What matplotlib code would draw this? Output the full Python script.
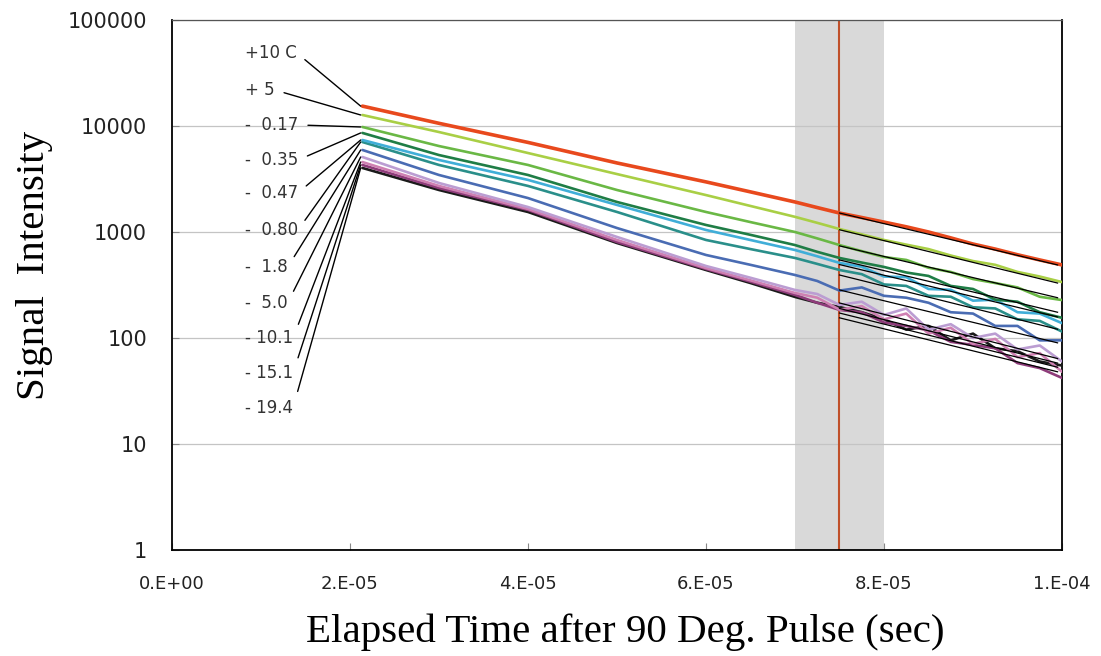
import matplotlib
matplotlib.use("Agg")
import matplotlib.pyplot as plt
import numpy as np

# ---------------- data ----------------
times_e5 = [2.14, 3, 4, 5, 6, 6.5, 7, 7.25, 7.5, 7.75, 8, 8.25, 8.5, 8.75, 9, 9.25, 9.5, 9.75, 10]

labels = ["+10 C", "+ 5", "-  0.17", "-  0.35", "-  0.47", "-  0.80",
          "-  1.8", "-  5.0", "- 10.1", "- 15.1", "- 19.4"]

s_p10   = [15400, 10600, 7000, 4480, 2970, 2390, 1920, 1700, 1510, 1370, 1240, 1120, 1000, 880, 770, 690, 610, 545, 489]
s_p5    = [12700, 8770, 5560, 3520, 2230, 1760, 1390, 1220, 1067, 950, 841, 760, 690, 600, 532, 490, 420, 380, 337]
s_m017  = [9790, 6470, 4290, 2490, 1545, 1240, 1000, 870, 753, 660, 581, 545, 460, 420, 360, 330, 300, 245, 228]
s_m035  = [8600, 5320, 3450, 1920, 1165, 940, 753, 650, 569, 515, 468, 415, 385, 310, 290, 230, 220, 175, 155]
s_m047  = [7380, 4780, 3100, 1800, 1045, 840, 676, 590, 511, 470, 380, 375, 290, 285, 225, 230, 175, 170, 138]
s_m080  = [7060, 4290, 2720, 1545, 841, 690, 569, 500, 438, 400, 320, 310, 250, 245, 195, 190, 150, 145, 115]
s_m18   = [5940, 3450, 2090, 1090, 607, 490, 393, 345, 280, 300, 250, 240, 215, 175, 170, 130, 130, 95, 95]
s_m50   = [5100, 2900, 1720, 898, 478, 370, 284, 260, 205, 220, 165, 190, 120, 135, 100, 110, 78, 85, 60]
s_m101  = [4570, 2720, 1650, 841, 457, 350, 266, 240, 185, 200, 150, 170, 110, 125, 88, 98, 66, 72, 48]
s_m151  = [4290, 2600, 1615, 805, 448, 340, 255, 215, 184, 175, 140, 130, 118, 92, 86, 80, 58, 52, 42]
s_m194  = [4020, 2490, 1545, 787, 438, 330, 244, 215, 196, 175, 150, 120, 130, 95, 110, 80, 75, 60, 55]

series = [s_p10, s_p5, s_m017, s_m035, s_m047, s_m080, s_m18, s_m50, s_m101, s_m151, s_m194]

# exponential fits drawn from 7.5E-05 to ~1E-04 (start, end intensities)
fit_t_e5 = [7.5, 9.95]
fit_start = [1510, 1050, 740, 545, 493, 393, 284, 214, 190, 172, 155]
fit_end   = [489, 330, 240, 175, 158, 121, 90, 64, 58, 53, 48]

colors = ["#e8491d", "#a9cf45", "#6ab845", "#1f7d46", "#40aed8", "#2a8f8a",
          "#4a6cb3", "#bb9dd2", "#cf80b2", "#8e3c7a", "#1a1a1a"]
widths = [2.6, 1.9, 1.9, 1.9, 1.9, 1.9, 1.9, 1.9, 1.9, 1.9, 1.9]

xticks = [0, 2e-5, 4e-5, 6e-5, 8e-5, 1e-4]
xticklabels = ["0.E+00", "2.E-05", "4.E-05", "6.E-05", "8.E-05", "1.E-04"]
yticks = [1, 10, 100, 1000, 10000, 100000]
yticklabels = ["1", "10", "100", "1000", "10000", "100000"]

band = (7e-5, 8e-5)
marker_t = 7.5e-5

# ---------------- plot ----------------
fig = plt.figure(figsize=(11.01, 6.56), dpi=100)
ax = fig.add_axes([172/1101, 106/656, 890/1101, 530/656])

t = np.array(times_e5) * 1e-5
ax.axvspan(band[0], band[1], color="#d9d9d9", lw=0, zorder=0)
ax.axvline(marker_t, color="#c0502a", lw=1.5, zorder=1)

for vals, c, w in reversed(list(zip(series, colors, widths))):
    ax.plot(t, vals, color=c, lw=w, solid_capstyle="round", zorder=3)

ft = np.array(fit_t_e5) * 1e-5
for s0, s1 in zip(fit_start, fit_end):
    ax.plot(ft, [s0, s1], color="black", lw=0.9, zorder=4)

ax.set_yscale("log")
ax.set_xlim(0, 1e-4)
ax.set_ylim(1, 100000)
ax.set_xticks(xticks)
ax.set_xticklabels(xticklabels)
ax.set_yticks(yticks)
ax.set_yticklabels(yticklabels)
ax.minorticks_off()
ax.yaxis.grid(True, color="#c4c4c4", lw=0.9)
ax.set_axisbelow(True)
ax.tick_params(axis="both", direction="in", length=5, width=0.8, color="#888888",
               pad=18, labelcolor="#222222")
ax.tick_params(axis="x", labelsize=13)
ax.tick_params(axis="y", labelsize=15)
for sp in ax.spines.values():
    sp.set_color("black")
    sp.set_linewidth(1.3)
ax.spines["top"].set_color("#555555")
ax.spines["top"].set_linewidth(0.9)

# labels with leader lines
label_y = [0.938, 0.868, 0.802, 0.736, 0.674, 0.604, 0.534, 0.466, 0.400, 0.334, 0.268]
for lab, ly, vals in zip(labels, label_y, series):
    ax.annotate(lab, xy=(t[0] - 0.02e-5, vals[0]), xycoords="data",
                xytext=(0.082, ly), textcoords="axes fraction",
                ha="left", va="center", fontsize=12, color="#333333",
                family="DejaVu Sans",
                arrowprops=dict(arrowstyle="-", color="black", lw=1.0,
                                relpos=(1.0, 0.5), shrinkA=5, shrinkB=0),
                zorder=5)

fig.text(625/1101, 1 - 632/656, "Elapsed Time after 90 Deg. Pulse (sec)",
         ha="center", va="center", fontsize=29.5, family="Liberation Serif")
fig.text(35/1101, 1 - 265/656, "Signal  Intensity", rotation=90,
         ha="center", va="center", fontsize=29.5, family="Liberation Serif")

fig.savefig("out.png", dpi=100)
